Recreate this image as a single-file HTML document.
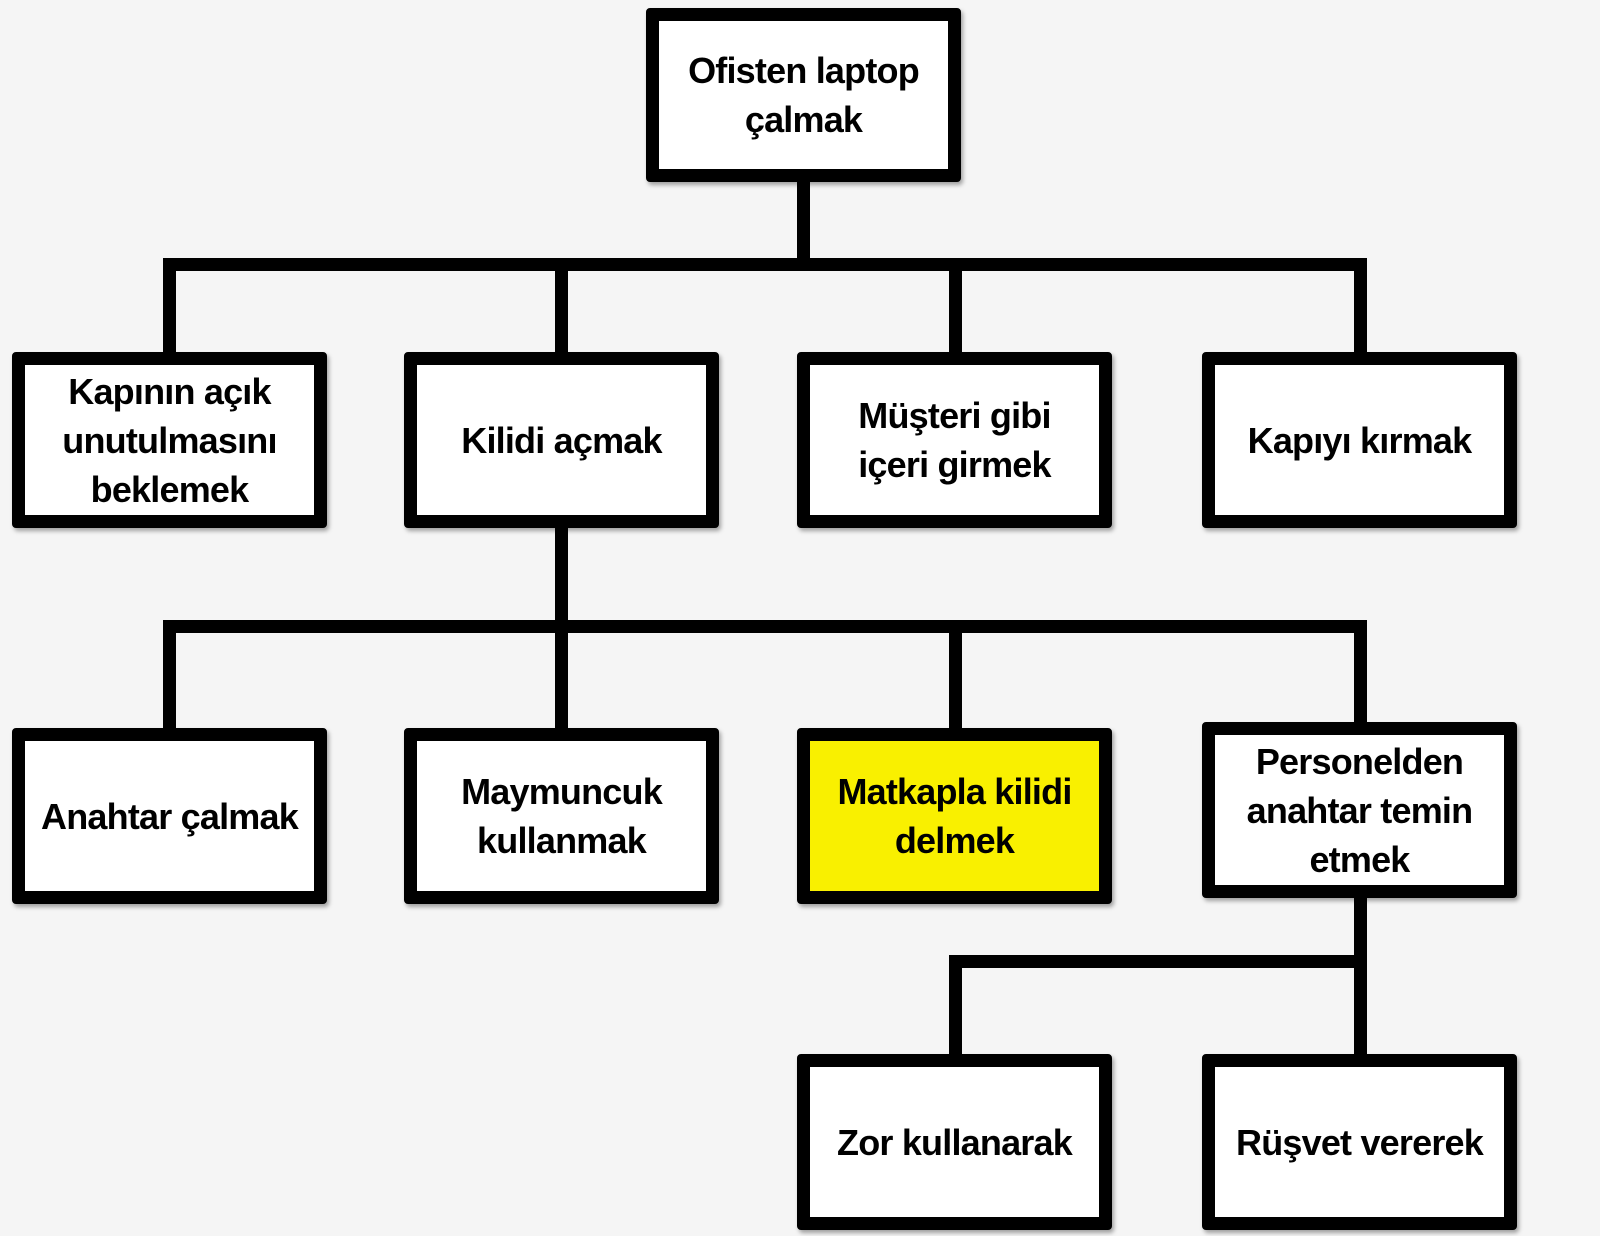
<!DOCTYPE html>
<html><head><meta charset="utf-8"><style>
html,body{margin:0;padding:0}
body{width:1600px;height:1236px;background:#f5f5f5;position:relative;overflow:hidden;font-family:"Liberation Sans",sans-serif}
.b{position:absolute;box-sizing:border-box;border:13px solid #000;border-radius:4px;background:#fff;display:flex;align-items:center;justify-content:center;text-align:center;font-weight:bold;font-size:36px;line-height:49px;color:#000;box-shadow:2px 3px 4px rgba(0,0,0,0.35);letter-spacing:-0.8px;white-space:nowrap}
.l{position:absolute;background:#000}
</style></head><body>
<div class="l" style="left:797px;top:180px;width:13px;height:90px"></div>
<div class="l" style="left:163px;top:258px;width:1204px;height:13px"></div>
<div class="l" style="left:163px;top:258px;width:13px;height:96px"></div>
<div class="l" style="left:555px;top:258px;width:13px;height:96px"></div>
<div class="l" style="left:949px;top:258px;width:13px;height:96px"></div>
<div class="l" style="left:1354px;top:258px;width:13px;height:96px"></div>

<div class="l" style="left:555px;top:525px;width:13px;height:100px"></div>
<div class="l" style="left:163px;top:620px;width:1204px;height:13px"></div>
<div class="l" style="left:163px;top:620px;width:13px;height:110px"></div>
<div class="l" style="left:555px;top:620px;width:13px;height:110px"></div>
<div class="l" style="left:949px;top:620px;width:13px;height:110px"></div>
<div class="l" style="left:1354px;top:620px;width:13px;height:104px"></div>

<div class="l" style="left:1354px;top:895px;width:13px;height:162px"></div>
<div class="l" style="left:949px;top:955px;width:418px;height:13px"></div>
<div class="l" style="left:949px;top:955px;width:13px;height:102px"></div>

<div class="b" style="left:646px;top:8px;width:315px;height:174px">Ofisten laptop<br>çalmak</div>

<div class="b" style="left:12px;top:352px;width:315px;height:176px">Kapının açık<br>unutulmasını<br>beklemek</div>
<div class="b" style="left:404px;top:352px;width:315px;height:176px">Kilidi açmak</div>
<div class="b" style="left:797px;top:352px;width:315px;height:176px">Müşteri gibi<br>içeri girmek</div>
<div class="b" style="left:1202px;top:352px;width:315px;height:176px">Kapıyı kırmak</div>

<div class="b" style="left:12px;top:728px;width:315px;height:176px">Anahtar çalmak</div>
<div class="b" style="left:404px;top:728px;width:315px;height:176px">Maymuncuk<br>kullanmak</div>
<div class="b" style="left:797px;top:728px;width:315px;height:176px;background:#f9f000">Matkapla kilidi<br>delmek</div>
<div class="b" style="left:1202px;top:722px;width:315px;height:176px">Personelden<br>anahtar temin<br>etmek</div>

<div class="b" style="left:797px;top:1054px;width:315px;height:176px">Zor kullanarak</div>
<div class="b" style="left:1202px;top:1054px;width:315px;height:176px">Rüşvet vererek</div>
</body></html>
